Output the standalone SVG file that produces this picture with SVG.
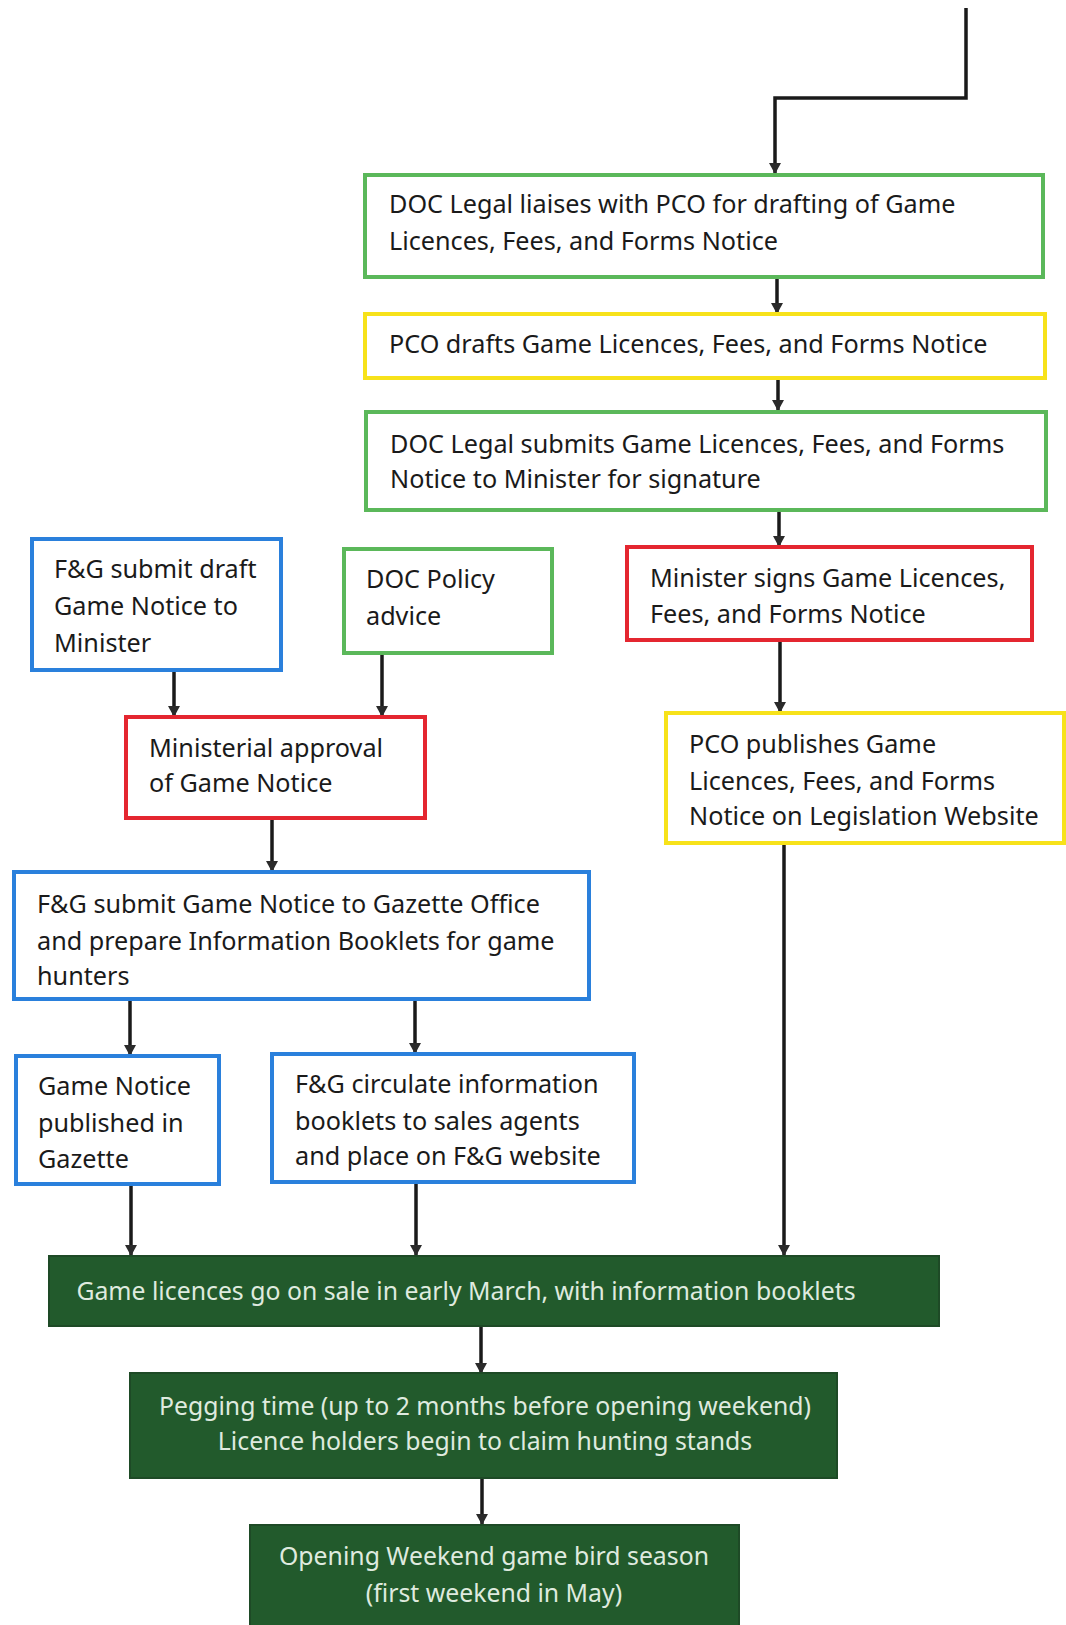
<svg xmlns="http://www.w3.org/2000/svg" width="1066" height="1625" viewBox="0 0 1066 1625">
<defs>
<marker id="ah" markerWidth="12" markerHeight="12" refX="10" refY="6" orient="auto" markerUnits="userSpaceOnUse">
<path d="M0,0 L11,6 L0,12 Z" fill="#2b2b2b"/>
</marker>
<style>
.box{fill:#fff;stroke-width:4}
.g{stroke:#5bb85a}
.y{stroke:#f7e21a}
.r{stroke:#e42630}
.b{stroke:#2a80dc}
.d{fill:#225a2c;stroke:#1e4a26;stroke-width:2}
.t{font-family:"Noto Sans","Open Sans",sans-serif;font-size:25.2px;fill:#1a1a1a}
.w{font-family:"Noto Sans","Open Sans",sans-serif;font-size:24.8px;fill:#dfeadf;text-anchor:middle}
.c{fill:none;stroke:#1a1a1a;stroke-width:3.5;marker-end:url(#ah)}
</style>
</defs>
<rect width="1066" height="1625" fill="#fff"/>
<g id="connectors">
<polyline class="c" points="966,8 966,98 775,98 775,173"/>
<line class="c" x1="777" y1="277" x2="777" y2="313"/>
<line class="c" x1="778" y1="378" x2="778" y2="410"/>
<line class="c" x1="779" y1="510" x2="779" y2="546"/>
<line class="c" x1="780" y1="641" x2="780" y2="712"/>
<line class="c" x1="784" y1="843" x2="784" y2="1255"/>
<line class="c" x1="174" y1="670" x2="174" y2="716"/>
<line class="c" x1="382" y1="654" x2="382" y2="716"/>
<line class="c" x1="272" y1="818" x2="272" y2="871"/>
<line class="c" x1="130" y1="1000" x2="130" y2="1055"/>
<line class="c" x1="415" y1="1000" x2="415" y2="1053"/>
<line class="c" x1="131" y1="1184" x2="131" y2="1255"/>
<line class="c" x1="416" y1="1183" x2="416" y2="1255"/>
<line class="c" x1="481" y1="1326" x2="481" y2="1373"/>
<line class="c" x1="482" y1="1478" x2="482" y2="1524"/>
</g>
<g id="n1"><rect class="box g" x="365" y="175" width="678" height="102"/>
<text class="t" x="389" y="213">DOC Legal liaises with PCO for drafting of Game</text>
<text class="t" x="389" y="250">Licences, Fees, and Forms Notice</text></g>
<g id="n2"><rect class="box y" x="365" y="314" width="680" height="64"/>
<text class="t" x="389" y="353">PCO drafts Game Licences, Fees, and Forms Notice</text></g>
<g id="n3"><rect class="box g" x="366" y="412" width="680" height="98"/>
<text class="t" x="390" y="453">DOC Legal submits Game Licences, Fees, and Forms</text>
<text class="t" x="390" y="488">Notice to Minister for signature</text></g>
<g id="n4"><rect class="box r" x="627" y="547" width="405" height="93"/>
<text class="t" x="650" y="587">Minister signs Game Licences,</text>
<text class="t" x="650" y="623">Fees, and Forms Notice</text></g>
<g id="n5"><rect class="box y" x="666" y="713" width="398" height="130"/>
<text class="t" x="689" y="753">PCO publishes Game</text>
<text class="t" x="689" y="790">Licences, Fees, and Forms</text>
<text class="t" x="689" y="825">Notice on Legislation Website</text></g>
<g id="n6"><rect class="box b" x="32" y="539" width="249" height="131"/>
<text class="t" x="54" y="578">F&amp;G submit draft</text>
<text class="t" x="54" y="615">Game Notice to</text>
<text class="t" x="54" y="652">Minister</text></g>
<g id="n7"><rect class="box g" x="344" y="549" width="208" height="104"/>
<text class="t" x="366" y="588">DOC Policy</text>
<text class="t" x="366" y="625">advice</text></g>
<g id="n8"><rect class="box r" x="126" y="717" width="299" height="101"/>
<text class="t" x="149" y="757">Ministerial approval</text>
<text class="t" x="149" y="792">of Game Notice</text></g>
<g id="n9"><rect class="box b" x="14" y="872" width="575" height="127"/>
<text class="t" x="37" y="913">F&amp;G submit Game Notice to Gazette Office</text>
<text class="t" x="37" y="950">and prepare Information Booklets for game</text>
<text class="t" x="37" y="985">hunters</text></g>
<g id="n10"><rect class="box b" x="16" y="1056" width="203" height="128"/>
<text class="t" x="38" y="1095">Game Notice</text>
<text class="t" x="38" y="1132">published in</text>
<text class="t" x="38" y="1168">Gazette</text></g>
<g id="n11"><rect class="box b" x="272" y="1054" width="362" height="128"/>
<text class="t" x="295" y="1093">F&amp;G circulate information</text>
<text class="t" x="295" y="1130">booklets to sales agents</text>
<text class="t" x="295" y="1165">and place on F&amp;G website</text></g>
<g id="n12"><rect class="d" x="49" y="1256" width="890" height="70"/>
<text class="w" x="466" y="1300">Game licences go on sale in early March, with information booklets</text></g>
<g id="n13"><rect class="d" x="130" y="1373" width="707" height="105"/>
<text class="w" x="485" y="1415">Pegging time (up to 2 months before opening weekend)</text>
<text class="w" x="485" y="1450">Licence holders begin to claim hunting stands</text></g>
<g id="n14"><rect class="d" x="250" y="1525" width="489" height="102"/>
<text class="w" x="494" y="1565">Opening Weekend game bird season</text>
<text class="w" x="494" y="1602">(first weekend in May)</text></g>
</svg>
